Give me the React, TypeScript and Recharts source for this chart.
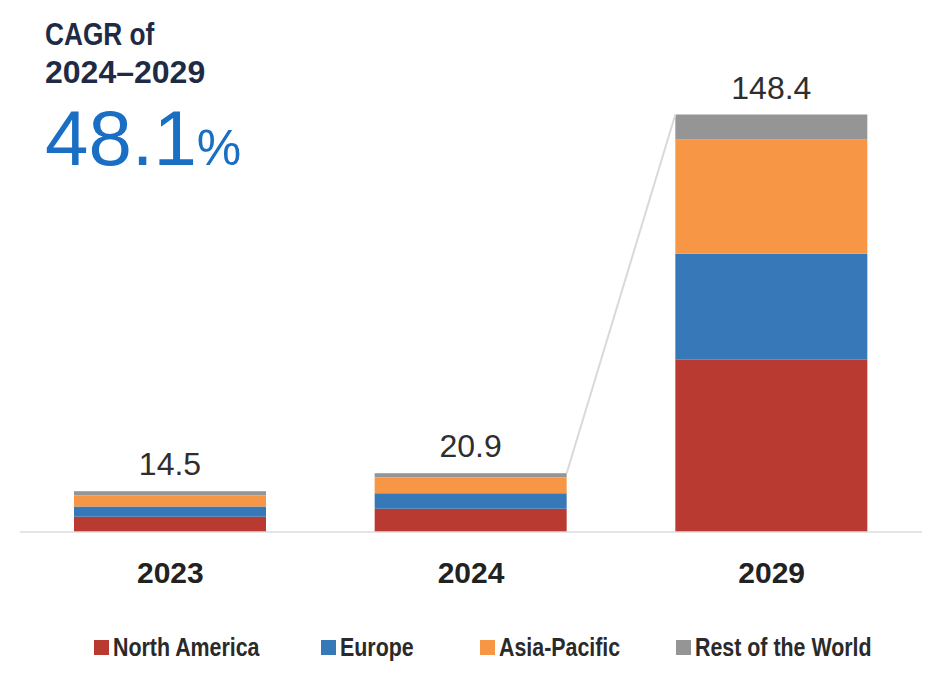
import React from "react";
import { BarChart, Bar, XAxis, YAxis, LabelList } from "recharts";

const years = ["2023", "2024", "2029"];
const northAmerica = [5.4, 8.3, 61.2];
const europe = [3.7, 5.5, 37.7];
const asiaPacific = [4.0, 5.7, 40.6];
const restOfWorld = [1.4, 1.4, 8.9];
const totals = [14.5, 20.9, 148.4];

const seriesNames = ["North America", "Europe", "Asia-Pacific", "Rest of the World"];
const seriesKeys = ["na", "eu", "ap", "row"];
const seriesColors = ["#b83a30", "#3778b9", "#f79644", "#959595"];
const legendLefts = [94, 321, 480, 676];

const data = years.map((y, i) => ({
  year: y,
  na: northAmerica[i],
  eu: europe[i],
  ap: asiaPacific[i],
  row: restOfWorld[i],
  total: totals[i],
}));

const sans = '"Liberation Sans", Arial, sans-serif';

const tops: Record<number, { x: number; y: number; w: number }> = {};

const TopShape = (props: any) => {
  const { x, y, width, height, fill, index } = props;
  tops[index] = { x, y, w: width };
  let connector = null;
  if (index === 2 && tops[1]) {
    const p = tops[1];
    connector = (
      <line x1={p.x + p.w} y1={p.y} x2={x} y2={y} stroke="#d9d9d9" strokeWidth={2} />
    );
  }
  return (
    <g>
      <rect x={x} y={y} width={width} height={height} fill={fill} />
      {connector}
    </g>
  );
};

export default function App() {
  return (
    <div style={{ position: "absolute", left: 0, top: 0, width: 939, height: 679, background: "#fff", overflow: "hidden" }}>
      <BarChart
        width={939}
        height={679}
        data={data}
        margin={{ top: 110, right: 17, left: 20, bottom: 87 }}
      >
        <XAxis
          dataKey="year"
          height={60}
          axisLine={{ stroke: "#dcdcdc", strokeWidth: 1.5 }}
          tickLine={false}
          tickSize={0}
          tickMargin={30}
          tick={{ fill: "#222", fontSize: 30, fontWeight: 700, fontFamily: sans }}
        />
        <YAxis hide domain={[0, 150]} />
        {seriesKeys.map((k, i) => (
          <Bar
            key={k}
            dataKey={k}
            name={seriesNames[i]}
            stackId="a"
            fill={seriesColors[i]}
            barSize={192}
            isAnimationActive={false}
            shape={i === 3 ? TopShape : undefined}
          >
            {i === 3 ? (
              <LabelList
                dataKey="total"
                position="top"
                offset={16}
                style={{ fill: "#2e2e2e", fontSize: 32, fontFamily: sans }}
              />
            ) : null}
          </Bar>
        ))}
      </BarChart>

      <div style={{ position: "absolute", left: 45, top: 15, fontFamily: sans, fontWeight: 700, color: "#1f2b45", fontSize: 32, lineHeight: "38px", whiteSpace: "nowrap" }}>
        <div style={{ transform: "scaleX(0.82)", transformOrigin: "left center" }}>CAGR of</div>
        <div>2024–2029</div>
      </div>
      <div style={{ position: "absolute", left: 45, top: 94, fontFamily: sans, color: "#1a6fc4", lineHeight: "88px", whiteSpace: "nowrap" }}>
        <span style={{ fontSize: 78 }}>48.1</span>
        <span style={{ fontSize: 50 }}>%</span>
      </div>

      {seriesNames.map((n, i) => (
        <div
          key={n}
          style={{
            position: "absolute",
            left: legendLefts[i],
            top: 633,
            height: 28,
            display: "flex",
            alignItems: "center",
            whiteSpace: "nowrap",
            fontFamily: sans,
            fontWeight: 700,
            fontSize: 25,
            color: "#2a2a2a",
          }}
        >
          <span style={{ display: "inline-block", width: 15, height: 15, background: seriesColors[i], marginRight: 4 }} />
          <span style={{ display: "inline-block", transform: "scaleX(0.855)", transformOrigin: "left center" }}>{n}</span>
        </div>
      ))}
    </div>
  );
}
